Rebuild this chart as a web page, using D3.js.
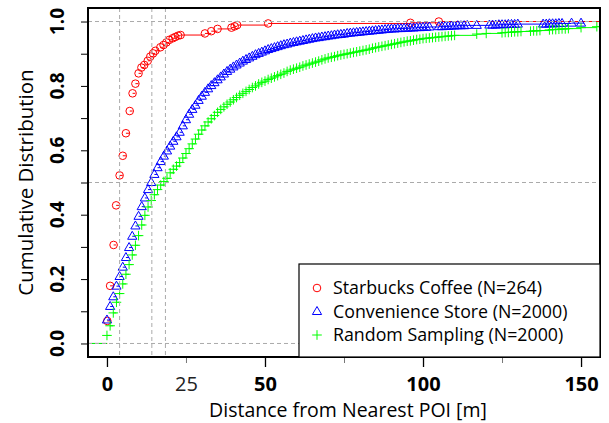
<!DOCTYPE html>
<html>
<head>
<meta charset="utf-8">
<script src="https://cdn.jsdelivr.net/npm/d3@7"></script>
<style>
  body { margin: 0; background: #fff; }
  svg text { font-family: "Open Sans", "DejaVu Sans", sans-serif; }
</style>
</head>
<body>
<div id="chart"></div>
<script>
// Starbucks Coffee (N=264): jump positions and ECDF values
var starX = [0.1, 1.0, 2.1, 2.9, 4.0, 5.0, 6.0, 7.2, 8.1, 9.0, 10.0, 10.9, 11.8, 12.9, 13.7, 14.6, 15.3,
  16.9, 17.9, 18.8, 19.7, 20.8, 21.6, 22.5, 23.3, 31.0, 33.0, 35.0, 39.4, 40.4, 41.2, 51.0, 96.0, 105.0];
var starY = [0.070, 0.179, 0.306, 0.429, 0.522, 0.583, 0.653, 0.722, 0.777, 0.807, 0.839, 0.857, 0.865,
  0.878, 0.891, 0.901, 0.909, 0.920, 0.927, 0.935, 0.943, 0.948, 0.952, 0.956, 0.958, 0.963, 0.970,
  0.977, 0.981, 0.985, 0.989, 0.994, 0.996, 1.000];

// Convenience Store (N=2000)
var convX = [0, 1, 2, 3, 4, 5, 6, 7, 8, 9, 10, 11, 12, 13, 14, 15, 16, 17, 18, 19, 20, 21, 22, 23, 24,
  25, 26, 27, 28, 29, 30, 31, 32, 33, 34, 35, 36, 37, 38, 39, 40, 41, 42, 43, 44, 45, 46, 47, 48, 49,
  50, 51, 52, 53, 54, 55, 56, 57, 58, 59, 60, 61, 62, 63, 64, 65, 66, 67, 68, 69, 70, 71, 72, 73, 74,
  75, 76, 77, 78, 79, 80, 81, 82, 83, 84, 85, 86, 87, 88, 89, 90, 91, 92, 93, 94, 95, 96, 97, 98, 99,
  100, 101, 102, 105, 106, 107, 108, 109, 110, 111, 112, 113, 114, 117, 121, 122, 123, 124, 125, 126,
  127, 128, 129, 130, 138, 139, 140, 141, 142, 143, 144, 147, 150, 151];
var convY = [0.073, 0.115, 0.145, 0.178, 0.208, 0.237, 0.267, 0.298, 0.333, 0.365, 0.395, 0.425, 0.452,
  0.478, 0.500, 0.525, 0.546, 0.565, 0.582, 0.598, 0.613, 0.628, 0.642, 0.656, 0.676, 0.695, 0.712,
  0.727, 0.740, 0.755, 0.768, 0.780, 0.791, 0.801, 0.810, 0.819, 0.828, 0.837, 0.845, 0.852, 0.859,
  0.865, 0.871, 0.877, 0.882, 0.887, 0.892, 0.897, 0.901, 0.905, 0.909, 0.913, 0.916, 0.919, 0.922,
  0.925, 0.928, 0.930, 0.933, 0.935, 0.937, 0.939, 0.941, 0.943, 0.945, 0.947, 0.949, 0.950, 0.952,
  0.953, 0.955, 0.956, 0.958, 0.959, 0.960, 0.961, 0.963, 0.964, 0.965, 0.966, 0.967, 0.968, 0.969,
  0.970, 0.971, 0.972, 0.973, 0.974, 0.975, 0.976, 0.977, 0.977, 0.978, 0.978, 0.979, 0.979, 0.980,
  0.980, 0.981, 0.981, 0.982, 0.982, 0.983, 0.984, 0.984, 0.985, 0.985, 0.986, 0.986, 0.987, 0.987,
  0.987, 0.988, 0.988, 0.989, 0.989, 0.989, 0.990, 0.990, 0.990, 0.991, 0.991, 0.991, 0.992, 0.992,
  0.992, 0.993, 0.993, 0.993, 0.994, 0.994, 0.995, 0.995];

// Random Sampling (N=2000)
var randX = [0, 1, 2, 3, 4, 5, 6, 7, 8, 9, 10, 11, 12, 13, 14, 15, 16, 17, 18, 19, 20, 21, 22, 23, 24,
  25, 26, 27, 28, 29, 30, 31, 32, 33, 34, 35, 36, 37, 38, 39, 40, 41, 42, 43, 44, 45, 46, 47, 48, 49,
  50, 51, 52, 53, 54, 55, 56, 57, 58, 59, 60, 61, 62, 63, 64, 65, 66, 67, 68, 69, 70, 71, 72, 73, 74,
  75, 76, 77, 78, 79, 80, 81, 82, 83, 84, 85, 86, 87, 88, 89, 90, 91, 92, 93, 94, 95, 96, 97, 98, 99,
  100, 101, 102, 103, 104, 105, 106, 107, 108, 109, 110, 117, 120, 125, 126, 127, 128, 129, 130, 131,
  134, 135, 136, 137, 140, 141, 142, 143, 144, 145, 146, 150, 155];
var randY = [0.025, 0.055, 0.095, 0.128, 0.155, 0.185, 0.215, 0.245, 0.275, 0.305, 0.335, 0.368, 0.398,
  0.424, 0.444, 0.462, 0.478, 0.492, 0.503, 0.513, 0.530, 0.541, 0.551, 0.562, 0.576, 0.590, 0.605,
  0.620, 0.635, 0.650, 0.663, 0.676, 0.688, 0.698, 0.708, 0.718, 0.727, 0.735, 0.743, 0.750, 0.757,
  0.764, 0.771, 0.777, 0.783, 0.789, 0.795, 0.800, 0.806, 0.811, 0.815, 0.820, 0.824, 0.828, 0.832,
  0.836, 0.840, 0.845, 0.849, 0.852, 0.855, 0.858, 0.862, 0.865, 0.868, 0.871, 0.874, 0.877, 0.881,
  0.884, 0.887, 0.889, 0.891, 0.894, 0.896, 0.898, 0.900, 0.902, 0.904, 0.906, 0.908, 0.910, 0.912,
  0.914, 0.917, 0.919, 0.921, 0.923, 0.925, 0.927, 0.929, 0.931, 0.933, 0.935, 0.937, 0.939, 0.940,
  0.942, 0.944, 0.945, 0.947, 0.948, 0.949, 0.950, 0.951, 0.952, 0.953, 0.954, 0.955, 0.956, 0.957,
  0.961, 0.963, 0.965, 0.966, 0.966, 0.967, 0.968, 0.968, 0.969, 0.970, 0.971, 0.971, 0.972, 0.974,
  0.975, 0.975, 0.976, 0.977, 0.977, 0.978, 0.981, 0.984];

var seriesNames = ['Starbucks Coffee (N=264)', 'Convenience Store (N=2000)', 'Random Sampling (N=2000)'];
var seriesColors = ['#ff0000', '#0000ff', '#00ff00'];
var medians = [4.0, 14.2, 18.5];
var refLevels = [0, 0.5, 1];
var xMajorTicks = [0, 50, 100, 150];
var xMinorTicks = [25, 75, 125];
var xMinorLabels = [25];
var yTicks = [0, 0.1, 0.2, 0.3, 0.4, 0.5, 0.6, 0.7, 0.8, 0.9, 1.0];
var yLabels = [0, 0.2, 0.4, 0.6, 0.8, 1.0];

var width = 609, height = 423;
var pLeft = 88, pRight = 600, pTop = 8, pBottom = 357;

var x = d3.scaleLinear().domain([-6, 156]).range([pLeft, pRight]);
var y = d3.scaleLinear().domain([-0.042, 1.042]).range([pBottom, pTop]);

var svg = d3.select('#chart').append('svg')
    .attr('width', width)
    .attr('height', height);

svg.append('clipPath').attr('id', 'plotclip')
  .append('rect')
    .attr('x', pLeft).attr('y', pTop)
    .attr('width', pRight - pLeft).attr('height', pBottom - pTop);

var plot = svg.append('g').attr('clip-path', 'url(#plotclip)');

var series = [
  {xs: starX, ys: starY, shape: 'circle'},
  {xs: convX, ys: convY, shape: 'triangle'},
  {xs: randX, ys: randY, shape: 'plus'}
];

function marker(sel, shape, color) {
  if (shape === 'circle') {
    sel.append('circle').attr('r', 3.8)
      .attr('fill', 'none').attr('stroke', color).attr('stroke-width', 1);
  } else if (shape === 'triangle') {
    sel.append('path').attr('d', 'M0,-5L4.6,3L-4.6,3Z')
      .attr('fill', 'none').attr('stroke', color).attr('stroke-width', 1);
  } else {
    sel.append('path').attr('d', 'M-4.8,0H4.8M0,-4.8V4.8')
      .attr('fill', 'none').attr('stroke', color).attr('stroke-width', 1);
  }
}

series.forEach(function(s, k) {
  var color = seriesColors[k];
  var pts = s.xs.map(function(v, i) { return [v, s.ys[i]]; });

  // horizontal steps of the ECDF
  var steps = [[-6, pts[0][0], 0]];
  pts.forEach(function(p, i) {
    var next = i < pts.length - 1 ? pts[i + 1][0] : 156;
    steps.push([p[0], next, p[1]]);
  });
  plot.append('g').selectAll('line')
    .data(steps)
    .enter().append('line')
      .attr('x1', function(d) { return x(d[0]); })
      .attr('x2', function(d) { return x(d[1]); })
      .attr('y1', function(d) { return y(d[2]); })
      .attr('y2', function(d) { return y(d[2]); })
      .attr('stroke', color)
      .attr('stroke-width', 1);

  var g = plot.append('g').selectAll('g')
    .data(pts)
    .enter().append('g')
      .attr('transform', function(d) { return 'translate(' + x(d[0]) + ',' + y(d[1]) + ')'; });
  marker(g, s.shape, color);
});

// reference lines
plot.selectAll('line.href')
  .data(refLevels)
  .enter().append('line')
    .attr('class', 'href')
    .attr('x1', pLeft).attr('x2', pRight)
    .attr('y1', function(d) { return y(d); })
    .attr('y2', function(d) { return y(d); })
    .attr('stroke', '#aaaaaa').attr('stroke-dasharray', '4,3');

plot.selectAll('line.vref')
  .data(medians)
  .enter().append('line')
    .attr('class', 'vref')
    .attr('y1', pTop).attr('y2', pBottom)
    .attr('x1', function(d) { return x(d); })
    .attr('x2', function(d) { return x(d); })
    .attr('stroke', '#aaaaaa').attr('stroke-dasharray', '4,3');

// x axis
var xMajor = d3.axisBottom(x).tickValues(xMajorTicks).tickSize(10).tickPadding(9.5)
    .tickFormat(d3.format('d'));
var xa = svg.append('g').attr('transform', 'translate(0,' + pBottom + ')').call(xMajor);
xa.select('.domain').remove();
xa.selectAll('line').attr('stroke', '#000').attr('stroke-width', 1.3);
xa.selectAll('text').attr('font-size', 20).attr('font-weight', 'bold').attr('fill', '#000');

var xMinor = d3.axisBottom(x).tickValues(xMinorTicks).tickSize(6).tickPadding(13.5)
    .tickFormat(function(d) { return xMinorLabels.indexOf(d) >= 0 ? d : ''; });
var xb = svg.append('g').attr('transform', 'translate(0,' + pBottom + ')').call(xMinor);
xb.select('.domain').remove();
xb.selectAll('line').attr('stroke', '#777');
xb.selectAll('text').attr('font-size', 20).attr('fill', '#222');

// y axis
var ya = svg.append('g').attr('transform', 'translate(' + pLeft + ',0)')
  .call(d3.axisLeft(y).tickValues(yTicks).tickSize(7).tickFormat(''));
ya.select('.domain').remove();
ya.selectAll('line').attr('stroke', '#000');

svg.append('g').selectAll('text')
  .data(yLabels)
  .enter().append('text')
    .attr('transform', function(d) { return 'translate(64,' + y(d) + ') rotate(-90)'; })
    .attr('text-anchor', 'middle')
    .attr('font-size', 19)
    .attr('font-weight', 'bold')
    .text(function(d) { return d3.format('.1f')(d); });

// plot box
svg.append('rect')
  .attr('x', pLeft).attr('y', pTop)
  .attr('width', pRight - pLeft).attr('height', pBottom - pTop)
  .attr('fill', 'none').attr('stroke', '#000').attr('stroke-width', 2);

// titles
svg.append('text')
  .attr('x', (pLeft + pRight) / 2 + 4).attr('y', 417)
  .attr('text-anchor', 'middle').attr('font-size', 19.5)
  .text('Distance from Nearest POI [m]');

svg.append('text')
  .attr('transform', 'translate(33,' + ((pTop + pBottom) / 2) + ') rotate(-90)')
  .attr('text-anchor', 'middle').attr('font-size', 20.5)
  .text('Cumulative Distribution');

// legend
var legend = svg.append('g');
legend.append('rect')
  .attr('x', 299).attr('y', 264)
  .attr('width', pRight - 299).attr('height', pBottom - 264)
  .attr('fill', '#fff').attr('stroke', '#000').attr('stroke-width', 1.2);

var rows = legend.selectAll('g.row')
  .data(seriesNames)
  .enter().append('g')
    .attr('class', 'row')
    .attr('transform', function(d, i) { return 'translate(317,' + (288 + i * 23.5) + ')'; });
rows.each(function(d, i) {
  marker(d3.select(this), series[i].shape, seriesColors[i]);
});
rows.append('text')
  .attr('x', 16).attr('dy', '0.35em')
  .attr('font-size', 17.8)
  .text(function(d) { return d; });
</script>
</body>
</html>
